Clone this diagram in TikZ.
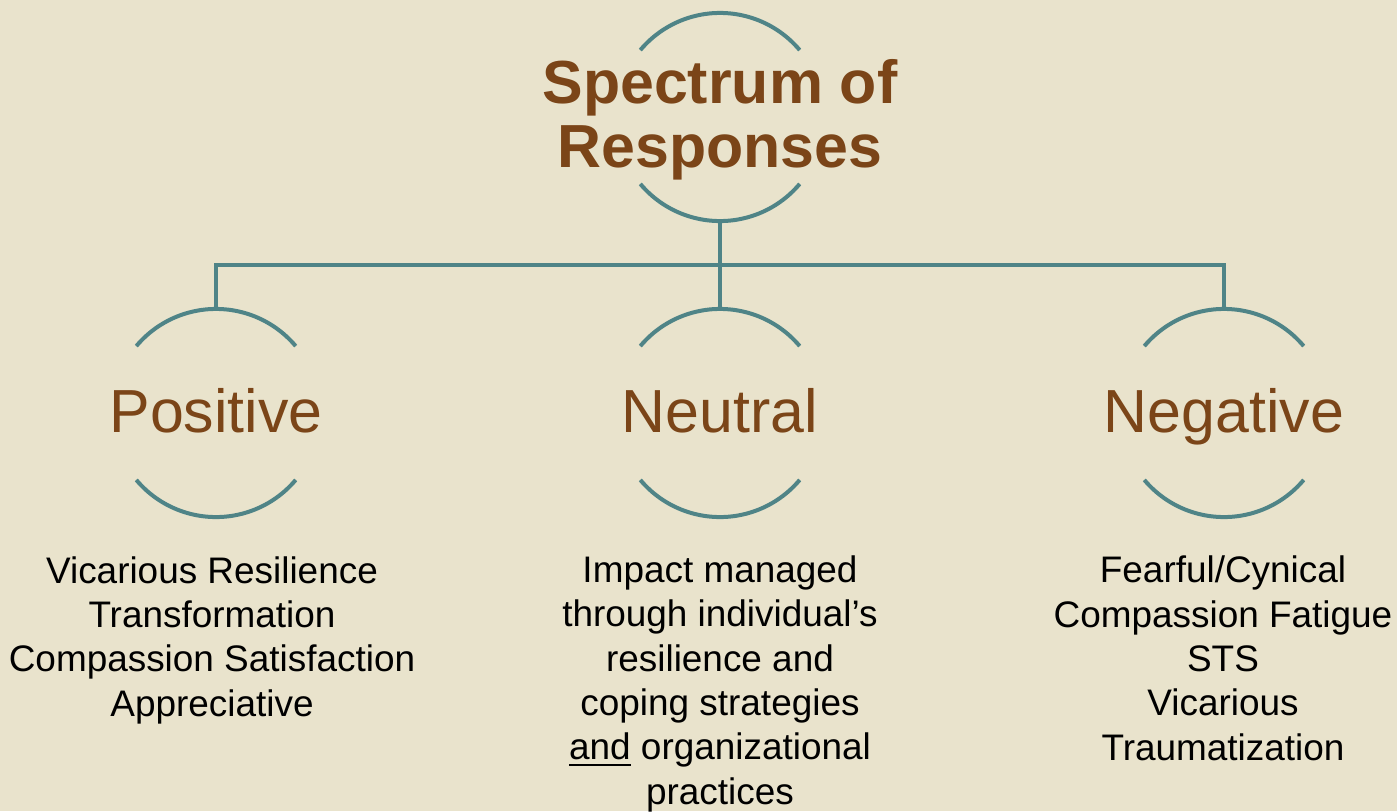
\documentclass[tikz,border=0pt]{standalone}
\usepackage{fontspec}
\setmainfont{Liberation Sans}
\usepackage{xcolor}
\usepackage{tikz}
\usetikzlibrary{positioning, calc}
\definecolor{paper}{HTML}{E9E3CC}
\definecolor{ringteal}{HTML}{4F8487}
\definecolor{labelbrown}{HTML}{7B4518}

\begin{document}
\begin{tikzpicture}[x=0.01cm, y=0.01cm,
        ring/.style={circle, minimum size=2.08cm, inner sep=0pt, outer sep=0pt},
        arcline/.style={draw=ringteal, line width=0.04cm},
        link/.style={draw=ringteal, line width=0.04cm},
        heading/.style={font=\fontsize{17.3}{18.2}\selectfont, text=labelbrown, align=center, inner sep=0pt, anchor=base},
        items/.style={font=\fontsize{10.5}{12.6}\selectfont, align=center, inner sep=0pt, anchor=base}]
        \useasboundingbox (0,0) rectangle (1397,811);
        \fill[paper] (0,0) rectangle (1397,811);

        % rings
        \node [ring] (top) at (720,694) {};
        \node [ring] (pos) at (216,398) {};
        \node [ring] (neu) at (720,398) {};
        \node [ring] (neg) at (1224,398) {};
        \foreach \r in {top,pos,neu,neg}
            \draw [arcline] (\r.40) arc[start angle=40, end angle=140, radius=1.04cm]
                            (\r.220) arc[start angle=220, end angle=320, radius=1.04cm];

        % headings (base = last line)
        \node [heading, font=\bfseries\fontsize{17.3}{18.2}\selectfont] (title) at (720,644) {Spectrum of\\Responses};
        \node [heading] (poslabel) at (216,379) {Positive};
        \node [heading] (neulabel) at (720,379) {Neutral};
        \node [heading] (neglabel) at (1224,379) {Negative};

        % branches
        \coordinate (hub) at (720,546);
        \draw [link] (top.south) -- (hub);
        \draw [link] (pos.north) |- (hub) -| (neg.north);
        \draw [link] (hub) -- (neu.north);

        % lists under each ring
        \node [items] (poslist) at (212,95) {Vicarious Resilience\\Transformation\\Compassion Satisfaction\\Appreciative};
        \node [items] (neulist) at (720,7) {Impact managed\\through individual’s\\resilience and\\coping strategies\\\underline{and} organizational\\practices};
        \node [items] (neglist) at (1223,51) {Fearful/Cynical\\Compassion Fatigue\\STS\\Vicarious\\Traumatization};
    \end{tikzpicture}
\end{document}
